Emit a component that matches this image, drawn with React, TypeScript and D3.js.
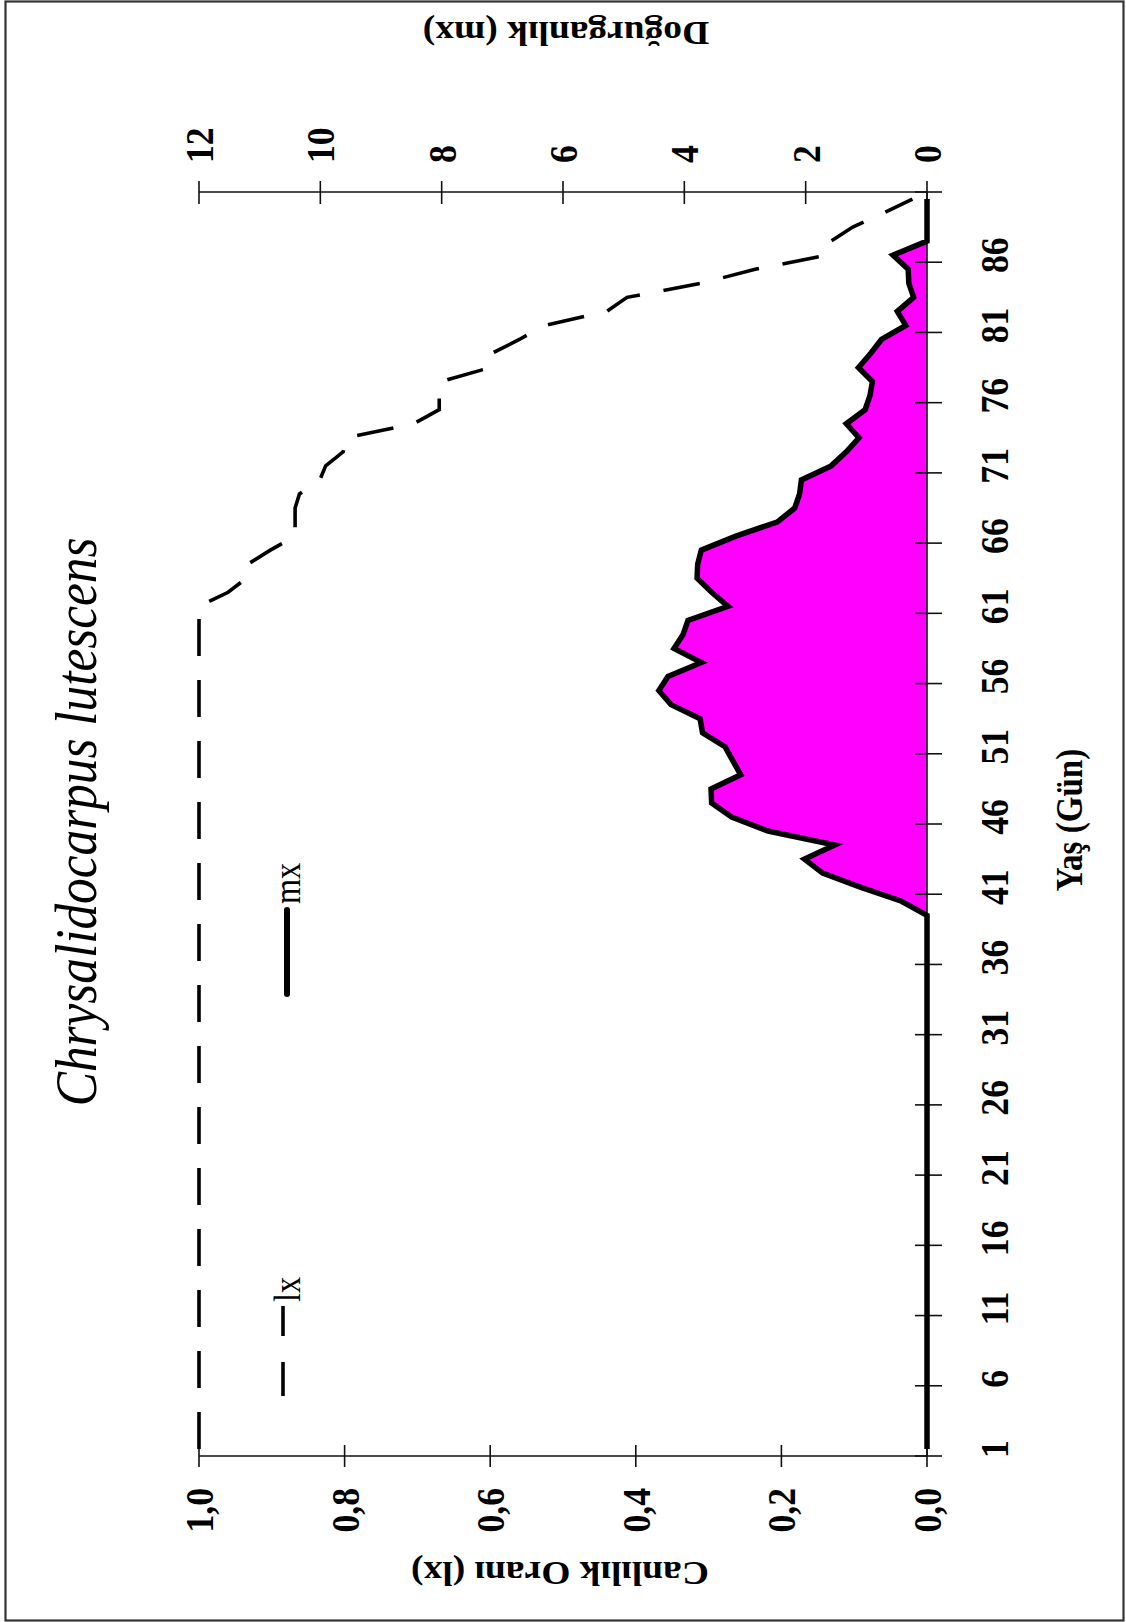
import React from "react";
import * as d3 from "d3";

// Survival rate (lx) by age in days, ages 1..90
const lxValues = [
  1, 1, 1, 1, 1, 1, 1, 1, 1, 1,
  1, 1, 1, 1, 1, 1, 1, 1, 1, 1,
  1, 1, 1, 1, 1, 1, 1, 1, 1, 1,
  1, 1, 1, 1, 1, 1, 1, 1, 1, 1,
  1, 1, 1, 1, 1, 1, 1, 1, 1, 1,
  1, 1, 1, 1, 1, 1, 1, 1, 1, 1,
  1, 0.96, 0.935, 0.933, 0.902, 0.868, 0.868, 0.868, 0.862, 0.834,
  0.826, 0.802, 0.798, 0.705, 0.67, 0.67, 0.668, 0.6, 0.598, 0.56,
  0.525, 0.44, 0.412, 0.31, 0.236, 0.137, 0.132, 0.102, 0.06, 0.02,
];

// Fecundity (mx) by age in days, ages 1..90
const mxValues = [
  0, 0, 0, 0, 0, 0, 0, 0, 0, 0,
  0, 0, 0, 0, 0, 0, 0, 0, 0, 0,
  0, 0, 0, 0, 0, 0, 0, 0, 0, 0,
  0, 0, 0, 0, 0, 0, 0, 0, 0, 0.42,
  1.1, 1.72, 2.02, 1.52, 2.62, 3.22, 3.55, 3.56, 3.07, 3.2,
  3.33, 3.7, 3.74, 4.22, 4.42, 4.27, 3.72, 4.17, 4.02, 3.94,
  3.28, 3.55, 3.79, 3.78, 3.72, 3.15, 2.47, 2.18, 2.1, 2.07,
  1.58, 1.33, 1.12, 1.33, 1.02, 0.94, 0.9, 1.13, 0.93, 0.75,
  0.35, 0.49, 0.22, 0.3, 0.31, 0.56, 0, 0, 0, 0,
];

const ageTickLabels = [1, 6, 11, 16, 21, 26, 31, 36, 41, 46, 51, 56, 61, 66, 71, 76, 81, 86];
const lxTicks = [0, 0.2, 0.4, 0.6, 0.8, 1.0];
const mxTicks = [0, 2, 4, 6, 8, 10, 12];

const W = 1126;
const H = 1622;
const SY = 0.87; // vertical squeeze applied to all lettering
const FONT = "'Liberation Serif', 'Times New Roman', serif";

const yAge = d3.scaleLinear().domain([0.5, 90.5]).range([1456, 192]);
const xLx = d3.scaleLinear().domain([0, 1]).range([927, 199]);
const xMx = d3.scaleLinear().domain([0, 12]).range([927, 199]);

const ageBoundaries = [...ageTickLabels.map((a) => a - 0.5), 90.5];

const lxLine = d3
  .line<number>()
  .x((v) => xLx(v))
  .y((_, i) => yAge(i + 1));

const mxLine = d3
  .line<number>()
  .x((v) => xMx(v))
  .y((_, i) => yAge(i + 1));

const mxArea = d3
  .area<number>()
  .y((_, i) => yAge(i + 1))
  .x0(xMx(0))
  .x1((v) => xMx(v));

const fmtComma = (v: number) => v.toFixed(1).replace(".", ",");

function RotText(props: {
  x: number;
  y: number;
  angle: number;
  anchor: "start" | "middle" | "end";
  size: number;
  weight?: string;
  italic?: boolean;
  children: React.ReactNode;
}) {
  const { x, y, angle, anchor, size, weight, italic, children } = props;
  return (
    <text
      transform={`translate(${x},${y}) scale(1,${SY}) rotate(${angle})`}
      textAnchor={anchor}
      fontFamily={FONT}
      fontSize={size}
      fontWeight={weight || "normal"}
      fontStyle={italic ? "italic" : "normal"}
      fill="#000"
    >
      {children}
    </text>
  );
}

export default function App() {
  const axisX = xLx(0);
  const axisBottom = yAge(0.5);
  const axisTop = yAge(90.5);
  return (
    <svg
      width={W}
      height={H}
      viewBox={`0 0 ${W} ${H}`}
      style={{ position: "absolute", left: 0, top: 0, background: "#fff" }}
    >
      <rect x={0} y={0} width={W} height={H} fill="#fff" />
      <rect x={5.5} y={1.5} width={1118} height={1619} fill="none" stroke="#333" strokeWidth={2.2} />

      {/* fecundity fill */}
      <path d={mxArea(mxValues) || ""} fill="#ff00ff" stroke="none" />

      {/* age axis */}
      <line x1={axisX} y1={axisBottom} x2={axisX} y2={axisTop} stroke="#111" strokeWidth={1.6} />
      {ageBoundaries.map((b) => (
        <line key={`at${b}`} x1={axisX - 12} x2={axisX + 15} y1={yAge(b)} y2={yAge(b)} stroke="#111" strokeWidth={1.6} />
      ))}
      {ageTickLabels.map((a) => (
        <RotText key={`al${a}`} x={1008} y={yAge(a)} angle={-90} anchor="middle" size={41} weight="bold">
          {a}
        </RotText>
      ))}

      {/* lx axis */}
      <line x1={xLx(1)} y1={axisBottom} x2={axisX} y2={axisBottom} stroke="#111" strokeWidth={1.6} />
      {lxTicks.map((t) => (
        <line key={`lt${t}`} x1={xLx(t)} x2={xLx(t)} y1={axisBottom - 11} y2={axisBottom + 11} stroke="#111" strokeWidth={1.6} />
      ))}
      {lxTicks.map((t) => (
        <RotText key={`ll${t}`} x={xLx(t) + 14} y={1488} angle={-90} anchor="end" size={41} weight="bold">
          {fmtComma(t)}
        </RotText>
      ))}

      {/* mx axis */}
      <line x1={xMx(12)} y1={axisTop} x2={axisX} y2={axisTop} stroke="#111" strokeWidth={1.6} />
      {mxTicks.map((t) => (
        <line key={`mt${t}`} x1={xMx(t)} x2={xMx(t)} y1={axisTop - 11} y2={axisTop + 12} stroke="#111" strokeWidth={1.6} />
      ))}
      {mxTicks.map((t) => (
        <RotText key={`ml${t}`} x={xMx(t) + 14} y={163} angle={-90} anchor="start" size={41} weight="bold">
          {t}
        </RotText>
      ))}

      {/* series */}
      <path
        d={lxLine(lxValues) || ""}
        fill="none"
        stroke="#000"
        strokeWidth={3.6}
        strokeDasharray="37,24"
      />
      <path
        d={mxLine(mxValues) || ""}
        fill="none"
        stroke="#000"
        strokeWidth={5.5}
        strokeLinejoin="miter"
      />

      {/* titles */}
      <RotText x={96} y={822} angle={-90} anchor="middle" size={59} italic>
        Chrysalidocarpus lutescens
      </RotText>
      <RotText x={1082} y={820} angle={-90} anchor="middle" size={38} weight="bold">
        Yaş (Gün)
      </RotText>
      <RotText x={560} y={1562} angle={180} anchor="middle" size={37.5} weight="bold">
        Canlılık Oranı (lx)
      </RotText>
      <RotText x={566} y={22} angle={180} anchor="middle" size={37.5} weight="bold">
        Doğurganlık (mx)
      </RotText>

      {/* legend */}
      <line x1={283} x2={283} y1={1396} y2={1362} stroke="#000" strokeWidth={3.6} />
      <line x1={283} x2={283} y1={1336} y2={1306} stroke="#000" strokeWidth={3.6} />
      <RotText x={300} y={1302} angle={-90} anchor="start" size={37}>
        lx
      </RotText>
      <line x1={287} x2={287} y1={994} y2={910} stroke="#000" strokeWidth={6} strokeLinecap="round" />
      <RotText x={300} y={904} angle={-90} anchor="start" size={37}>
        mx
      </RotText>
    </svg>
  );
}
